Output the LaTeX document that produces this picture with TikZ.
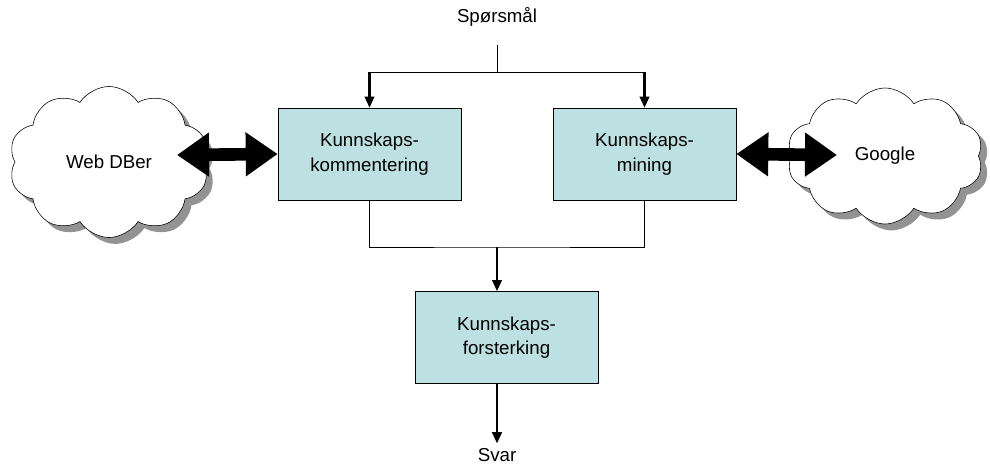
\documentclass[tikz,border=0pt]{standalone}
\usepackage{fontspec}
\setmainfont{Liberation Sans}
\usetikzlibrary{shapes.symbols, arrows.meta, positioning, shadows}
\definecolor{boxcyan}{HTML}{BDE0E3}

\begin{document}
\begin{tikzpicture}[
    x=0.025cm, y=-0.025cm,
    font=\fontsize{13.3}{17.5}\selectfont,
    box/.style={draw, fill=boxcyan, minimum width=4.575cm, minimum height=2.3cm, align=center},
    cloudbox/.style={draw, fill=white, cloud, cloud puffs=10, cloud puff arc=115,
        drop shadow={shadow xshift=0.16cm, shadow yshift=-0.16cm, fill=gray!85, opacity=1}},
    arr/.style={-{Triangle[length=0.28cm, width=0.24cm]}, line width=1.6pt},
    dblarr/.style={{Triangle[length=0.8cm, width=1.05cm]}-{Triangle[length=0.8cm, width=1.05cm]}, line width=9pt},
]
\useasboundingbox (0,0) rectangle (990,465);

\node[box] (komm) at (369.5,154) {Kunnskaps-\\kommentering};
\node[box] (mining) at (644.5,154) {Kunnskaps-\\mining};
\node[box] (forst) at (506.5,337.5) {Kunnskaps-\\forsterking};

\node[cloudbox, minimum width=5cm, minimum height=3cm] (web) at (109,162) {Web DBer};
\node[cloudbox, minimum width=4.9cm, minimum height=3.4cm] (google) at (885,156) {Google};

\node (q) at (497,17) {Spørsmål};
\node (svar) at (497,455) {Svar};

\coordinate (qend) at (497,45);
\coordinate (split) at (497,72);
\coordinate (join) at (497,247);
\coordinate (webtip) at (177,155);
\coordinate (googletip) at (837,155);

% question splits to both boxes
\draw (qend) -- (split);
\draw (split -| komm) -- (split -| mining);
\draw[arr] (split -| komm) -- (komm);
\draw[arr] (split -| mining) -- (mining);

% merge into reinforcement
\draw (komm.south) |- (join) -| (mining.south);
\draw[arr] (join) -- (join |- forst.north);
\draw[arr] (join |- forst.south) -- (svar);

% sources
\draw[dblarr] (webtip) -- (komm.west);
\draw[dblarr] (mining.east) -- (googletip);

\end{tikzpicture}
\end{document}
